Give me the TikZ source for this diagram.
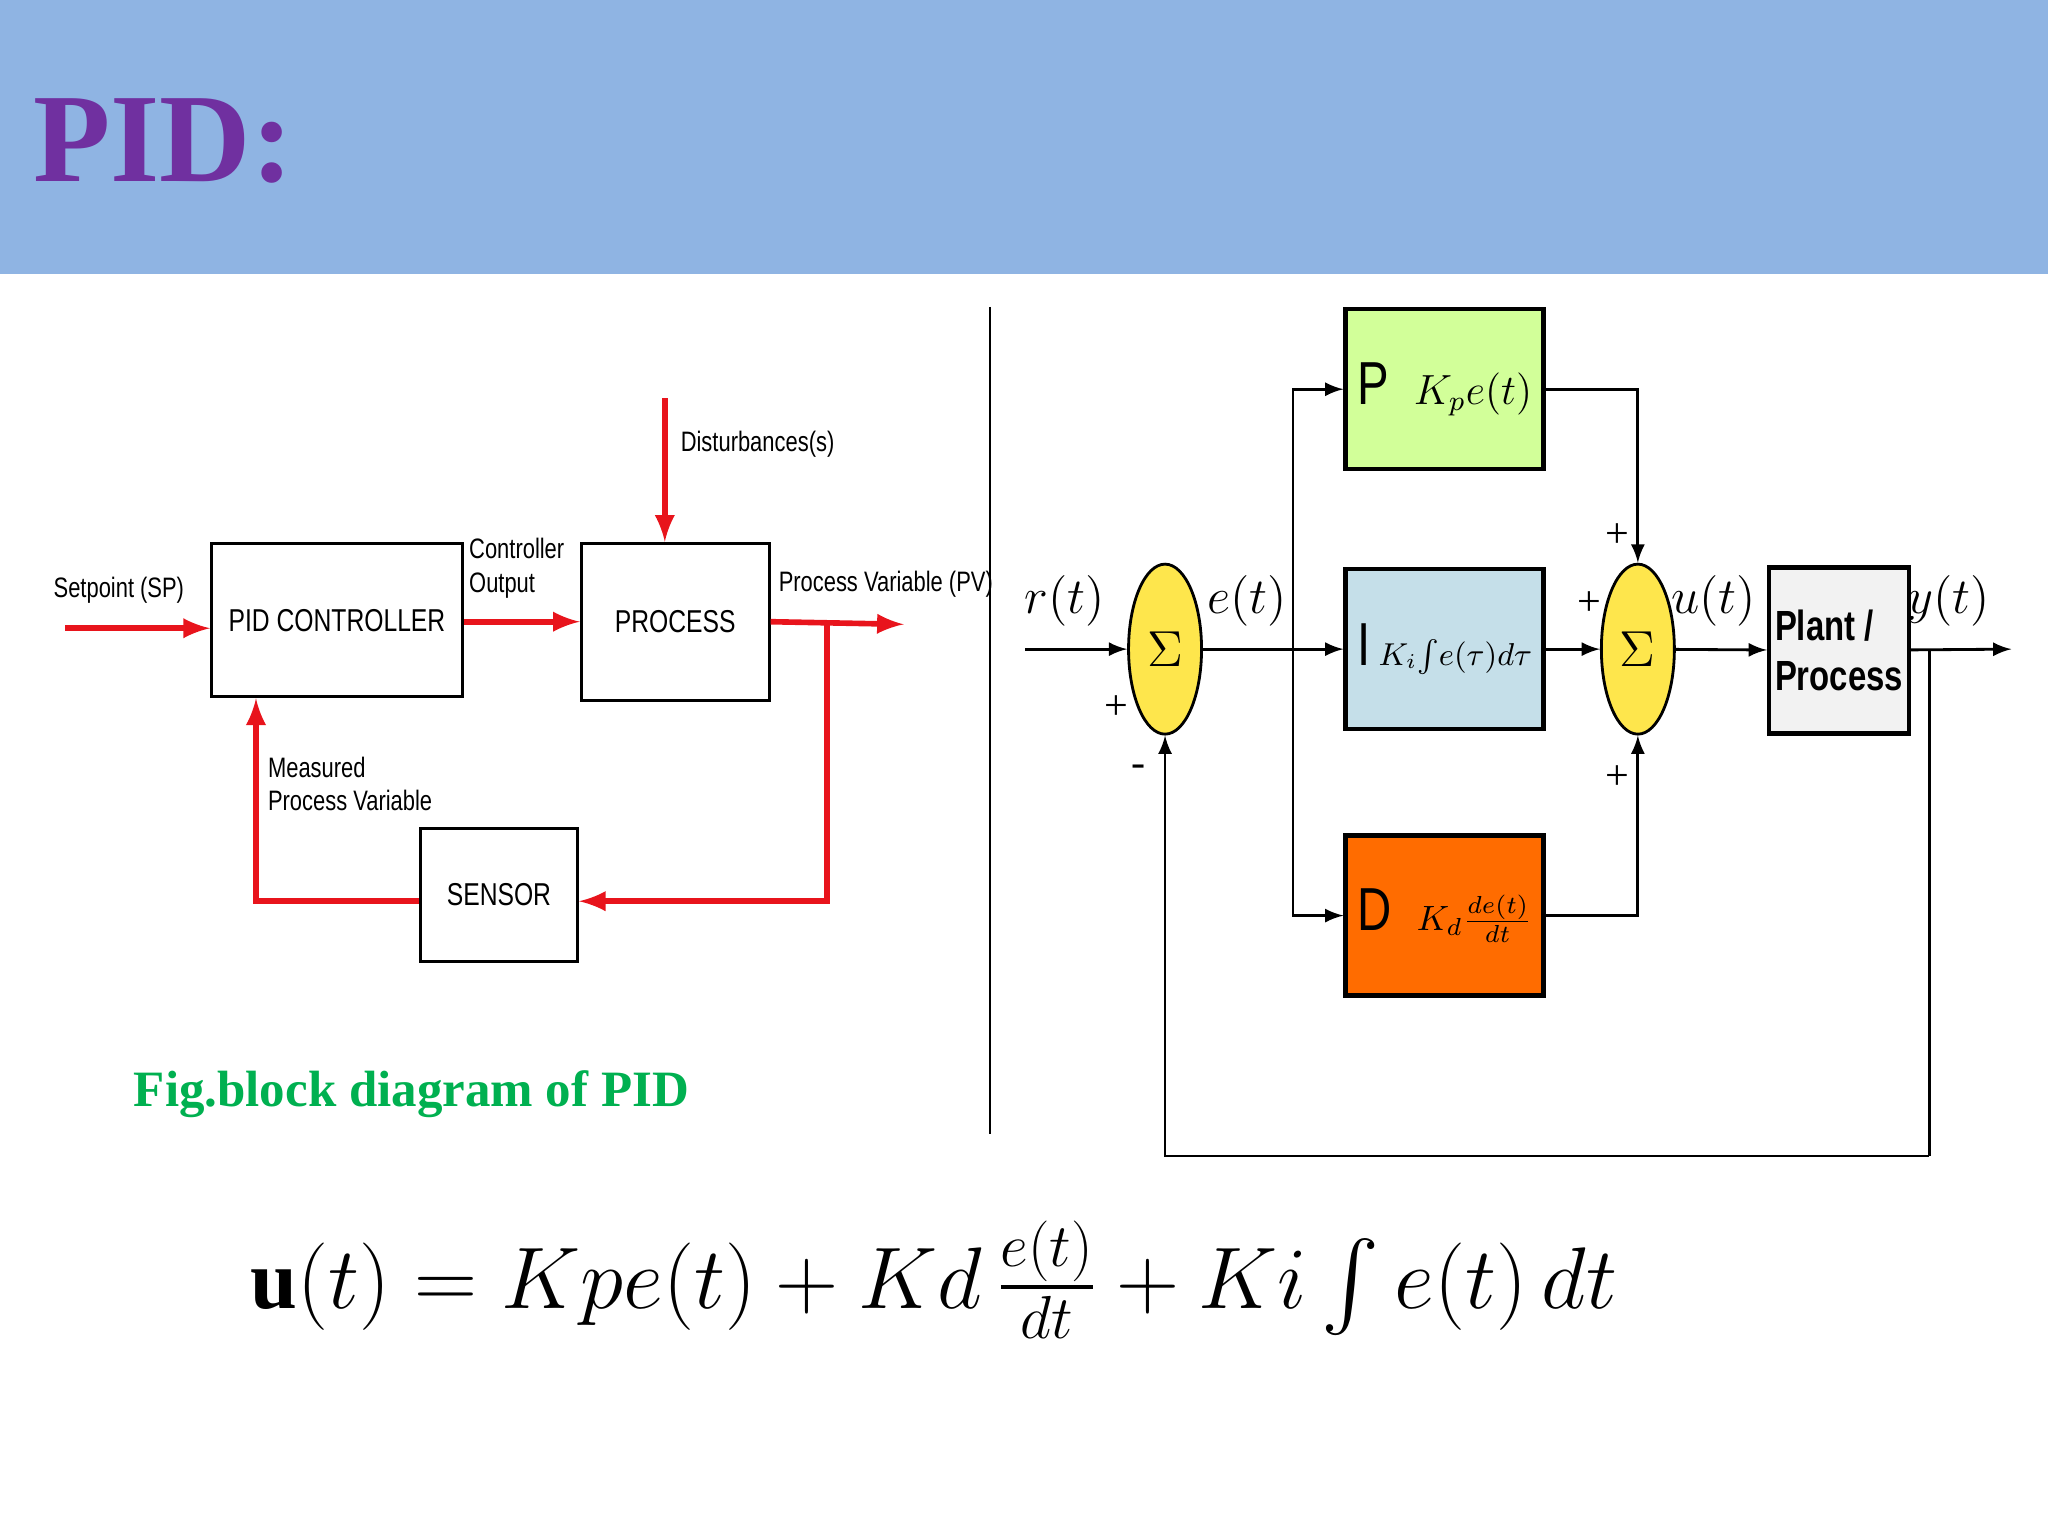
\documentclass[tikz,border=0pt]{standalone}
\usepackage{amsmath}
\usepackage{fontspec}
\setmainfont{Liberation Serif}
\newfontfamily\lblfont{Liberation Sans}[FakeStretch=0.78]
\usetikzlibrary{positioning,shapes.geometric}
\definecolor{band}{HTML}{8FB4E3}
\definecolor{ttl}{HTML}{7030A0}
\definecolor{cap}{HTML}{00B050}
\definecolor{redln}{HTML}{E8141C}
\tikzset{
  blk/.style={draw, thick, fill=white, inner sep=0pt, font=\lblfont\small},
  lbl/.style={font=\lblfont\footnotesize, align=left, inner sep=1pt},
  rarr/.style={redln, line width=1.6pt, -latex},
  sig/.style={thick, -latex},
  sgn/.style={font=\large, inner sep=0pt},
  summ/.style={draw, thick, ellipse, fill=yellow!80!orange!70, minimum width=0.73cm, minimum height=1.7cm, inner sep=0pt, font=\Large},
  gain/.style={draw, very thick, minimum width=1.98cm, minimum height=1.6cm, inner sep=0pt, font=\LARGE\lblfont}
}
\newcommand{\gaintext}[2]{\makebox[1.75cm]{#1\hfill#2}}
\begin{document}
\begin{tikzpicture}[x=0.013061cm, y=-0.013061cm]
\useasboundingbox (0,0) rectangle (1568,1176);
% header
\fill[band] (0,0) rectangle (1568,210);
\node[anchor=west, text=ttl, font=\fontsize{36}{40}\selectfont\bfseries] (title) at (16,108) {PID:};
\draw (758,235) -- (758,868);

% left diagram
\node[blk, minimum width=2.51cm, minimum height=1.53cm] (ctrl) at (258,475) {PID CONTROLLER};
\node[blk, minimum width=1.88cm, minimum height=1.57cm] (proc) at (517,476) {PROCESS};
\node[blk, minimum width=1.57cm, minimum height=1.33cm] (sens) at (382,685) {SENSOR};
\coordinate (sp) at (50,481);
\coordinate (dist) at (509,305);
\coordinate (pv) at (692,478);
\coordinate (tap) at (633,478);
\coordinate (tapd) at (633,690);
\coordinate (mcor) at (196,690);
\draw[rarr] (sp) -- (ctrl.west|-sp);
\draw[rarr] (ctrl.east|-proc) -- (proc.west);
\draw[rarr] (dist) -- (proc.north-|dist);
\draw[rarr] (proc.east) -- (pv);
\draw[rarr] (tap) -- (tapd) -- (sens.east|-tapd);
\draw[rarr] (sens.west|-tapd) -- (mcor) -- (mcor|-ctrl.south);
\node[lbl] (splbl) at (91,452) {Setpoint (SP)};
\node[lbl, anchor=west] (colbl) at (356,435) {Controller\\Output};
\node[lbl, anchor=west] (dlbl) at (518,340) {Disturbances(s)};
\node[lbl, anchor=west] (pvlbl) at (593,447) {Process Variable (PV)};
\node[lbl, anchor=west] (mlbl) at (202,600) {Measured\\Process Variable};
\node[text=cap, font=\fontsize{14.5}{17}\selectfont\bfseries, anchor=west] (fig) at (93,838) {Fig.block diagram of PID};

% right diagram
\node[summ] (s1) at (892,497) {$\Sigma$};
\node[summ] (s2) at (1254,497) {$\Sigma$};
\node[gain, fill=green!25!lime!40] (pb) at (1106,298) {\gaintext{P}{\large$K_pe(t)$}};
\node[gain, fill=cyan!30!teal!25] (ib) at (1106,497) {\gaintext{I}{\small$K_i\!\int\! e(\tau)d\tau$}};
\node[gain, fill=orange!85!red] (db) at (1106,701) {\gaintext{D}{\normalsize$K_d\frac{de(t)}{dt}$}};
\node[draw, very thick, fill=gray!10, minimum width=1.4cm, minimum height=1.66cm, inner sep=0pt, align=left, font=\lblfont\large\bfseries] (plant) at (1408,498) {Plant /\\Process};
\coordinate (rin) at (785,497);
\coordinate (yout) at (1540,497);
\coordinate (fb) at (1477,497);
\coordinate (fbb) at (1477,885);
\coordinate (br) at (990,497);
\draw[sig] (rin) -- (s1);
\draw[thick] (s1) -- (br);
\draw[sig] (br) -- (ib);
\draw[sig] (br) |- (pb);
\draw[sig] (br) |- (db);
\draw[sig] (pb) -| (s2.north);
\draw[sig] (db) -| (s2.south);
\draw[sig] (ib) -- (s2);
\draw[sig] (s2) -- (plant);
\draw[sig] (plant) -- (yout);
\draw[thick] (fb) -- (fbb);
\draw[sig] (fbb) -| (s1.south);
\node[font=\Large] (rl) at (815,460) {$r(t)$};
\node[font=\Large] (el) at (955,460) {$e(t)$};
\node[font=\Large] (ul) at (1312,460) {$u(t)$};
\node[font=\Large] (yl) at (1492,460) {$y(t)$};
\node[sgn] (p1) at (855,542) {+};
\node[sgn] (m1) at (872,590) {-};
\node[sgn] (p2) at (1238,410) {+};
\node[sgn] (p3) at (1217,462) {+};
\node[sgn] (p4) at (1238,595) {+};

% equation
\node[font=\fontsize{24}{30}\selectfont] (eq) at (715,980)
  {$\mathbf{u}(t) = Kpe(t) + Kd\,\frac{e(t)}{dt} + Ki\int e(t)\,dt$};
\end{tikzpicture}
\end{document}
